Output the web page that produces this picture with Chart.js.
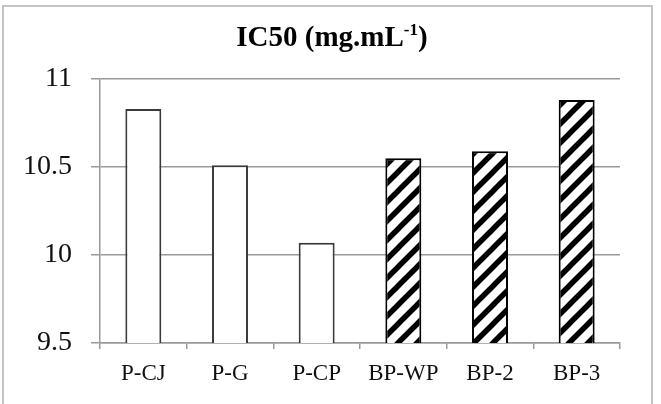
<!DOCTYPE html>
<html>
<head>
<meta charset="utf-8">
<script src="https://cdn.jsdelivr.net/npm/chart.js@4.4.1/dist/chart.umd.min.js"></script>
<style>
  html, body { margin: 0; padding: 0; background: #fff; }
  #wrap { position: relative; width: 661px; height: 404px; }
</style>
</head>
<body>
<div id="wrap"><canvas id="chart" width="661" height="404"></canvas></div>
<script>
// Data
const categories = ['P-CJ', 'P-G', 'P-CP', 'BP-WP', 'BP-2', 'BP-3'];
const ic50Values = [10.83, 10.51, 10.07, 10.55, 10.59, 10.88];
const hatched = [false, false, false, true, true, true];
const yTicks = [9.5, 10, 10.5, 11];

// diagonal hatch "/"
function makeHatch() {
    const size = 19;
    const c = document.createElement('canvas');
    c.width = size; c.height = size;
    const g = c.getContext('2d');
    g.fillStyle = '#fff';
    g.fillRect(0, 0, size, size);
    g.strokeStyle = '#000';
    g.lineWidth = 5.5;
    for (const off of [-size, 0, size]) {
        g.beginPath();
        g.moveTo(off - 2, size + 2);
        g.lineTo(off + size + 2, -2);
        g.stroke();
    }
    return g.createPattern(c, 'repeat');
}
const hatch = makeHatch();

// title with superscript + outer frame
const decorPlugin = {
    id: 'decor',
    beforeDraw(chart) {
        const ctx = chart.ctx;
        ctx.save();
        ctx.strokeStyle = '#c4c4c4';
        ctx.lineWidth = 2;
        ctx.beginPath();
        ctx.moveTo(3, 410);
        ctx.lineTo(3, 6);
        ctx.lineTo(652, 6);
        ctx.lineTo(652, 410);
        ctx.stroke();
        ctx.restore();
    },
    afterDraw(chart) {
        const ctx = chart.ctx;
        ctx.save();
        ctx.fillStyle = '#000';
        ctx.textBaseline = 'alphabetic';
        const big = 'bold 29px "Liberation Serif", "Times New Roman", serif';
        const small = 'bold 17px "Liberation Serif", "Times New Roman", serif';
        const p1 = 'IC50 (mg.mL', sup = '-1', p2 = ')';
        ctx.font = big;
        const w1 = ctx.measureText(p1).width, w3 = ctx.measureText(p2).width;
        ctx.font = small;
        const w2 = ctx.measureText(sup).width;
        let x = 332 - (w1 + w2 + w3) / 2;
        const y = 46;
        ctx.font = big;
        ctx.fillText(p1, x, y); x += w1;
        ctx.font = small;
        ctx.fillText(sup, x, y - 11); x += w2;
        ctx.font = big;
        ctx.fillText(p2, x, y);
        ctx.restore();
    }
};

new Chart(document.getElementById('chart'), {
    type: 'bar',
    data: {
        labels: categories,
        datasets: [{
            data: ic50Values,
            backgroundColor: hatched.map(h => h ? hatch : '#fff'),
            borderColor: hatched.map(h => h ? '#000' : '#3a3a3a'),
            borderWidth: 2,
            borderSkipped: false,
            barPercentage: 0.415,
            categoryPercentage: 1
        }]
    },
    options: {
        responsive: false,
        animation: false,
        layout: { padding: { top: 79, right: 41, left: 0, bottom: 0 } },
        plugins: { legend: { display: false }, tooltip: { enabled: false } },
        scales: {
            x: {
                offset: true,
                afterFit(scale) { scale.height = 61; },
                grid: { drawOnChartArea: false, color: '#9a9a9a', tickLength: 6, lineWidth: 1.5 },
                border: { color: '#9a9a9a', width: 1.5 },
                ticks: {
                    color: '#111',
                    padding: 11,
                    font: { family: '"Liberation Serif", "Times New Roman", serif', size: 23 }
                }
            },
            y: {
                min: yTicks[0],
                max: yTicks[yTicks.length - 1],
                afterFit(scale) { scale.width = 100; },
                afterBuildTicks(scale) { scale.ticks = yTicks.map(v => ({ value: v })); },
                grid: { color: '#9a9a9a', tickLength: 9, lineWidth: 1.5 },
                border: { color: '#9a9a9a', width: 1.5 },
                ticks: {
                    color: '#111',
                    padding: 19,
                    font: { family: '"Liberation Serif", "Times New Roman", serif', size: 28 },
                    callback: v => String(v)
                }
            }
        }
    },
    plugins: [decorPlugin]
});
</script>
</body>
</html>
